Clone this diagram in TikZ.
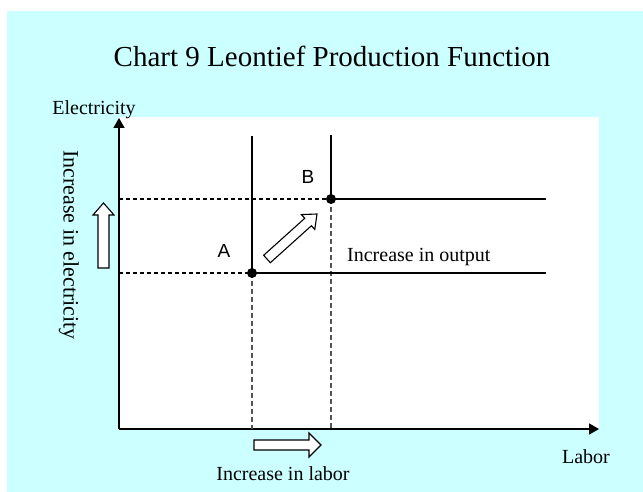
\documentclass[tikz,border=0pt]{standalone}
\usepackage{fontspec}
\setmainfont{Liberation Serif}
\newfontfamily\arialfont{Liberation Sans}
\usetikzlibrary{arrows.meta, calc, positioning}
\definecolor{slidecyan}{RGB}{204,255,255}
\definecolor{dropgray}{RGB}{85,85,85}
\tikzset{
  axis/.style={line width=1.4pt,-{Triangle[length=10pt,width=11pt]}},
  isoquant/.style={line width=2.8pt},
  guide/.style={line width=1.1pt,dash pattern=on 4pt off 3pt},
  drop/.style={dropgray,line width=1.7pt,dash pattern=on 5pt off 3pt},
  hollow/.style={draw=black,fill=white,line width=1.1pt,line join=miter},
  lbl/.style={inner sep=0pt,font=\fontsize{20}{24}\selectfont},
  ptlbl/.style={inner sep=0pt,font=\arialfont\fontsize{19}{23}\selectfont},
  corner/.style={circle,fill=black,inner sep=0pt,minimum size=10pt},
}
% tail, tip, shaft half width, head half width, head length
\newcommand{\hollowarrow}[5]{%
  \draw[hollow] ($(#1)!#3!90:(#2)$) -- ($(#2)!#5!(#1)!#3!90:(#2)$)
    -- ($(#2)!#5!(#1)!#4!90:(#2)$) -- (#2)
    -- ($(#2)!#5!(#1)!#4!-90:(#2)$) -- ($(#2)!#5!(#1)!#3!-90:(#2)$)
    -- ($(#1)!#3!-90:(#2)$) -- cycle;}

\begin{document}
\begin{tikzpicture}[x=1pt,y=1pt,>=Stealth]
  \useasboundingbox (0,0) rectangle (643,492);
  % ---- slide background and plot area ----
  \fill[slidecyan] (7,0) rectangle (643,481);
  \fill[white] (119,63) rectangle (599,375);
  \node[inner sep=0pt,anchor=base,font=\fontsize{29}{34}\selectfont] (title)
    at (332,425) {Chart 9 Leontief Production Function};

  % ---- axes ----
  \coordinate (O) at (119,63);
  \coordinate (ytip) at (119,374);
  \coordinate (xtip) at (599,63);
  \draw[axis] (O) -- (ytip);
  \draw[axis] (O) -- (xtip);
  \node[lbl,anchor=base] (ylab) at (94,377) {Electricity};
  \node[lbl,anchor=base] (xlab) at (586,28) {Labor};

  % ---- two isoquants (L-shaped) ----
  \coordinate (A) at (252,219);
  \coordinate (B) at (331,293);
  \coordinate (Atop) at (252,356);
  \coordinate (Btop) at (331,357);
  \coordinate (Aend) at (546,219);
  \coordinate (Bend) at (546,293);
  \draw[guide] (O |- A) -- (A);
  \draw[guide] (O |- B) -- (B);
  \draw[drop] (A) -- (A |- O);
  \draw[drop] (B) -- (B |- O);
  \draw[isoquant] (Atop) -- (A) -- (Aend);
  \draw[isoquant] (Btop) -- (B) -- (Bend);
  \node[corner] (dotA) at (A) {};
  \node[corner] (dotB) at (B) {};
  \node[ptlbl] (labA) at (224,241) {A};
  \node[ptlbl] (labB) at (308,315) {B};
  \node[lbl,anchor=base west] (outlab) at (347,230) {Increase in output};

  % ---- hollow arrows ----
  \coordinate (upT) at (103.5,224);
  \coordinate (upH) at (103.5,289);
  \coordinate (rtT) at (254,47);
  \coordinate (rtH) at (321,47);
  \coordinate (dgT) at (267,233);
  \coordinate (dgH) at (317,278);
  \hollowarrow{upT}{upH}{5.5pt}{10.5pt}{12pt}
  \hollowarrow{rtT}{rtH}{5pt}{12pt}{12pt}
  \hollowarrow{dgT}{dgH}{5pt}{10pt}{12pt}
  \node[inner sep=0pt,font=\fontsize{22}{26}\selectfont,rotate=-90] (elab)
    at (69,247) {Increase in electricity};
  \node[lbl,anchor=base] (llab) at (283,11) {Increase in labor};
\end{tikzpicture}
\end{document}
